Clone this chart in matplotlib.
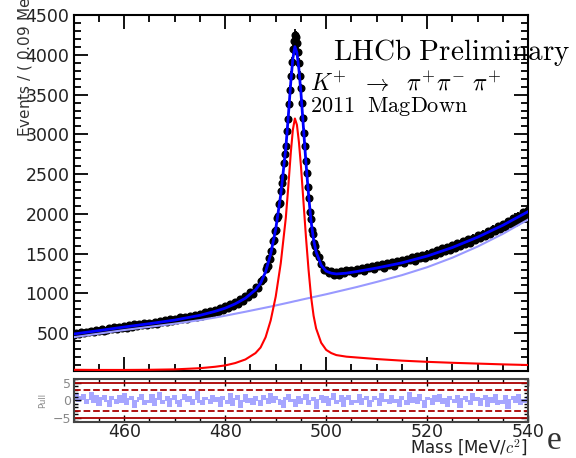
import numpy as np
import matplotlib
matplotlib.use("Agg")
import matplotlib.pyplot as plt
from matplotlib.ticker import MultipleLocator

plt.rcParams["mathtext.fontset"] = "cm"

# K+ -> pi+ pi- pi+ invariant mass, 2011 MagDown
# data points (MeV/c^2, events per bin)
mass_lo = [450 + 0.5 * i for i in range(77)]          # 450 .. 488
counts_lo = [482, 503, 492, 515, 498, 520, 509, 531, 512, 537,
             526, 549, 530, 541, 566, 549, 574, 552, 581, 566,
             589, 570, 599, 584, 612, 590, 611, 598, 630, 605,
             633, 618, 645, 622, 652, 637, 664, 641, 676, 652,
             681, 660, 699, 676, 706, 684, 722, 699, 735, 708,
             744, 722, 765, 741, 776, 756, 798, 770, 818, 792,
             836, 812, 866, 841, 895, 871, 932, 905, 968, 950,
             1021, 998, 1079, 1063, 1160, 1178, 1305]

mass_pk = [488.2 + 0.2 * i for i in range(50)]        # 488.2 .. 498.0
counts_pk = [1342, 1345, 1440, 1432, 1531, 1540, 1660, 1669, 1790, 1795,
             1945, 1968, 2120, 2141, 2290, 2395, 2465, 2640, 2755, 2860,
             3040, 3190, 3380, 3560, 3740, 3905, 4070, 4180, 4255, 4230,
             4150, 4040, 3900, 3740, 3580, 3390, 3205, 3020, 2850, 2660,
             2510, 2335, 2200, 2030, 1930, 1800, 1745, 1630, 1600, 1510]

mass_hi = [498.5 + 0.5 * i for i in range(84)]        # 498.5 .. 540
counts_hi = [1455, 1372, 1301, 1296, 1255, 1281, 1236, 1270, 1232, 1279,
             1262, 1296, 1284, 1301, 1262, 1308, 1295, 1322, 1280, 1330,
             1318, 1346, 1302, 1352, 1341, 1371, 1325, 1382, 1360, 1398,
             1351, 1405, 1392, 1420, 1378, 1438, 1420, 1455, 1410, 1470,
             1451, 1488, 1440, 1502, 1474, 1520, 1485, 1541, 1508, 1566,
             1529, 1585, 1551, 1606, 1570, 1631, 1596, 1655, 1618, 1679,
             1640, 1703, 1668, 1730, 1691, 1752, 1721, 1786, 1750, 1815,
             1779, 1846, 1808, 1871, 1838, 1910, 1873, 1944, 1902, 1978,
             1940, 2020, 1975, 2050]

# fit components
fit_mass = [450, 455, 460, 465, 470, 475, 478, 480, 482, 484, 486, 487, 488,
            489, 490, 491, 492, 492.5, 493, 493.4, 493.8, 494.2, 494.6, 495,
            495.5, 496, 496.5, 497, 497.5, 498, 499, 500, 501, 502, 504, 506,
            510, 515, 520, 525, 530, 535, 540]
fit_sig = [40, 38, 38, 40, 45, 60, 78, 95, 125, 170, 250, 320, 450,
           660, 960, 1380, 1950, 2350, 2780, 3060, 3200, 3120, 2900, 2600,
           2150, 1700, 1300, 960, 720, 560, 380, 290, 250, 225, 205, 195,
           175, 155, 140, 128, 118, 108, 100]
fit_bkg = [450, 495, 540, 580, 620, 665, 697, 720, 745, 770, 796, 809, 822,
           835, 849, 863, 877, 884, 891, 897, 903, 908, 914, 920,
           927, 934, 941, 948, 955, 962, 976, 990, 1005, 1020, 1050, 1080,
           1145, 1230, 1330, 1450, 1590, 1750, 1930]

# pulls, one per 0.5 MeV
pull_mass = [450 + 0.5 * i for i in range(181)]
pulls = [1.8, 2.1, -0.6, 1.2, 1.9, -1.1, 0.4, 2.3, -0.8, 1.5, -1.7, 0.9, 1.6, -0.4, -1.9, 1.1, 0.3, -1.2,
         1.4, -0.7, 2.0, -1.5, 0.6, 1.3, -2.2, -0.5, 1.0, 1.8, -1.3, 0.2, -0.9, 1.7, -1.6, 0.8, 2.4, -1.0,
         -0.3, 1.2, -1.8, 0.7, 1.5, -1.1, -2.0, 0.5, 1.9, -0.6, 1.1, -1.4, 0.3, 2.6, -0.8, -1.5, 1.0, 0.4,
         -1.2, 1.6, -0.5, 0.9, -1.9, 1.3, 0.2, -1.0, 2.1, -1.6, 0.6, 1.4, -2.3, -0.4, 1.8, -0.9, 0.7, -1.3,
         1.1, -0.2, -1.7, 1.5, 0.8, -1.2, 2.0, -0.7, 1.3, 0.5, -1.5, -2.1, 0.9, 1.7, -0.6, 0.3, -1.8, 1.2,
         -1.0, 0.6, 1.9, -1.4, -0.3, 1.0, -2.4, 0.4, 1.6, -0.8, 1.2, -1.6, 0.7, 2.2, -1.1, -0.5, 1.4, -1.9,
         0.9, 1.5, -1.3, 0.2, -0.9, 1.8, -1.5, 0.6, 1.1, -2.0, -0.4, 1.3, 0.8, -1.7, 2.0, -0.6, 0.4, -1.2,
         1.6, -0.8, 0.5, -1.9, 1.2, 0.1, -1.4, 2.3, -0.7, 0.9, -1.1, 1.7, -0.2, -2.1, 1.0, 0.6, -1.5, 1.4,
         -0.5, 1.9, -1.2, 0.7, -1.8, 1.1, 0.3, -0.9, 1.6, -2.2, 0.8, 1.3, -0.6, -1.4, 2.0, -0.3, 1.0, -1.7,
         0.6, 1.4, -2.0, 0.9, -0.7, 1.8, -1.3, 0.2, -1.0, 1.5, -2.5, 0.4, 1.1, -0.8, 1.7, -1.5, 0.5, -0.9, 1.2]

mass = np.array(mass_lo + mass_pk + mass_hi)
counts = np.array(counts_lo + counts_pk + counts_hi)
sig = np.array(fit_sig)
bkg = np.array(fit_bkg)
total = sig + bkg

fig = plt.figure(figsize=(5.76, 4.58), dpi=100)
ax = fig.add_axes([0.128, 0.190, 0.789, 0.777])
axp = fig.add_axes([0.128, 0.079, 0.789, 0.094])

ax.errorbar(mass, counts, yerr=np.sqrt(counts), fmt="o", ms=4.8, color="black",
            elinewidth=1.3, capsize=0, zorder=2)
ax.plot(fit_mass, bkg, color="#9999ff", lw=1.5, zorder=3)
ax.plot(fit_mass, sig, color="red", lw=1.5, zorder=3)
ax.plot(fit_mass, total, color="blue", lw=2, zorder=4)

ax.set_xlim(450, 540)
ax.set_ylim(25, 4500)
ax.xaxis.set_major_locator(MultipleLocator(20))
ax.xaxis.set_minor_locator(MultipleLocator(5))
ax.yaxis.set_major_locator(MultipleLocator(500))
ax.yaxis.set_minor_locator(MultipleLocator(100))
ax.tick_params(which="both", direction="in", top=True, right=True, width=1.3)
ax.tick_params(which="major", length=10)
ax.tick_params(which="minor", length=5)
ax.tick_params(axis="x", labelbottom=False)
ax.tick_params(axis="y", labelsize=12.5, labelcolor="#222222", pad=3)
for s in ax.spines.values():
    s.set_linewidth(1.5)

fig.text(0.045, 1 - 137 / 458, "Events / ( 0.09 MeV/$c^2$ )", rotation=90,
         ha="center", va="bottom", fontsize=11, color="#333333")

ax.text(0.570, 0.896, r"$\mathrm{LHCb\ Preliminary}$", transform=ax.transAxes,
        fontsize=21, va="center", ha="left", clip_on=False)
ax.text(0.52, 0.809, r"$K^{+}\ \ \rightarrow\ \ \pi^{+}\pi^{-}\ \pi^{+}$",
        transform=ax.transAxes, fontsize=17, va="center", ha="left")
ax.text(0.52, 0.742, r"$\mathrm{2011\ \ MagDown}$", transform=ax.transAxes,
        fontsize=16, va="center", ha="left")

# pull panel: overlapping bars so both signs show in every column
axp.bar(pull_mass, pulls, width=1.0, color="#a6a6ff", lw=0)
for lv, ls in [(5, "-"), (-5, "-"), (3, "--"), (-3, "--")]:
    axp.axhline(lv, color="#aa0000", lw=1.3, ls=ls)
axp.set_xlim(450, 540)
axp.set_ylim(-6.2, 6.2)
axp.set_yticks([-5, 0, 5])
axp.xaxis.set_major_locator(MultipleLocator(20))
axp.xaxis.set_minor_locator(MultipleLocator(5))
axp.yaxis.set_minor_locator(MultipleLocator(1))
axp.tick_params(which="both", direction="in", top=True, right=True, width=1)
axp.tick_params(which="major", length=5)
axp.tick_params(which="minor", length=3)
axp.tick_params(axis="y", labelsize=9, labelcolor="#888888", pad=2)
axp.tick_params(axis="x", labelsize=12.5, labelcolor="#222222", pad=1)
for s in axp.spines.values():
    s.set_linewidth(1.5)
    s.set_color("#444444")
axp.set_ylabel("Pull", fontsize=6, color="#888888", labelpad=4)

fig.text(0.915, 1 - 448 / 458, "Mass [MeV/$c^2$]", ha="right", va="center",
         fontsize=12, color="#222222")
fig.text(0.962, 1 - 441 / 458, "e", ha="center", va="center", fontsize=24,
         family="Liberation Serif", color="#333333")

fig.savefig("out.png", dpi=100)
